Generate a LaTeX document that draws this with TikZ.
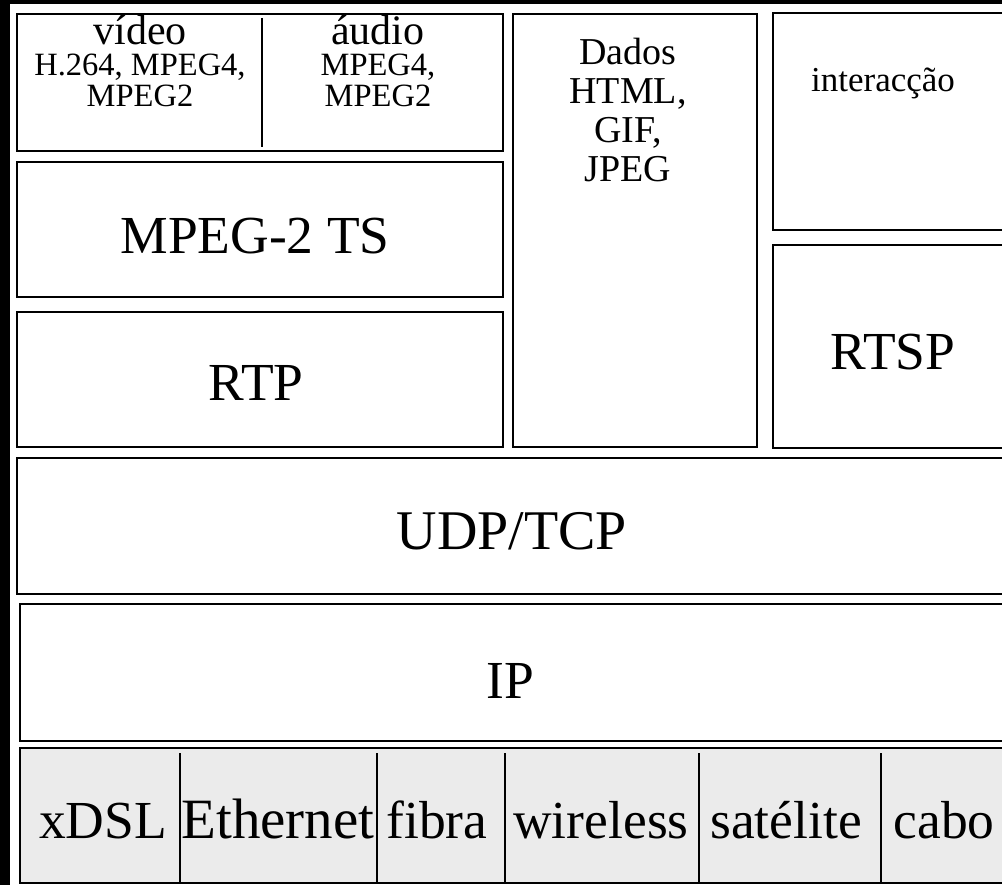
\documentclass[tikz,border=0pt]{standalone}
\usepackage{fontspec}
\setmainfont{Liberation Serif}
\definecolor{physgray}{RGB}{235,235,235}
\begin{document}
\begin{tikzpicture}[x=1pt,y=-1pt,
  box/.style={draw=black, line width=2pt, fill=white, rectangle, inner sep=0pt, outer sep=0pt},
  physbox/.style={box, fill=physgray},
  divline/.style={draw=black, line width=2pt},
  lbl/.style={anchor=base, inner sep=0pt, outer sep=0pt, text=black},
  bigtxt/.style={lbl, font=\fontsize{53.5}{53.5}\selectfont},
  titletxt/.style={lbl, font=\fontsize{42}{42}\selectfont},
  smalltxt/.style={lbl, font=\fontsize{32.5}{32.5}\selectfont},
  datatxt/.style={lbl, font=\fontsize{38}{38}\selectfont},
  intertxt/.style={lbl, font=\fontsize{35}{35}\selectfont}]
\useasboundingbox (0,0) rectangle (1002,885);
\fill[white] (0,0) rectangle (1002,885);
\fill[black] (0,0) rectangle (10,885);
\fill[black] (0,0) rectangle (1002,4);
\clip (0,0) rectangle (1002,885);

% boxes
\node[box, minimum width=486pt, minimum height=137pt] (vidaud) at (260,82.5) {};
\node[box, minimum width=486pt, minimum height=135pt] (mpegts) at (260,229.5) {};
\node[box, minimum width=486pt, minimum height=135pt] (rtp) at (260,379.5) {};
\node[box, minimum width=244pt, minimum height=433pt] (dados) at (635,230.5) {};
\node[box, minimum width=239pt, minimum height=217pt] (inter) at (892.5,121.5) {};
\node[box, minimum width=239pt, minimum height=203pt] (rtsp) at (892.5,346.5) {};
\node[box, minimum width=995pt, minimum height=136pt] (udp) at (514.5,526) {};
\node[box, minimum width=992pt, minimum height=137pt] (ip) at (516,672.5) {};
\node[physbox, minimum width=992pt, minimum height=135pt] (phys) at (516,815.5) {};

% divider in video/audio box
\coordinate (vdtop) at (262,18);
\coordinate (vdbot) at (262,147);
\draw[divline] (vdtop) -- (vdbot);

% dividers in physical row
\foreach \xx/\nm in {180/a,377/b,505/c,699/d,881/e}{
  \coordinate (pt\nm) at (\xx,753);
  \coordinate (pb\nm) at (\xx,883);
  \draw[divline] (pt\nm) -- (pb\nm);
}

% video / audio texts
\node[titletxt] (vt1) at (140,45) {vídeo};
\node[smalltxt] (vt2) at (140,76) {H.264, MPEG4,};
\node[smalltxt] (vt3) at (140,107) {MPEG2};
\node[titletxt] (at1) at (378,45) {áudio};
\node[smalltxt] (at2) at (378,76) {MPEG4,};
\node[smalltxt] (at3) at (378,107) {MPEG2};

% dados texts
\node[datatxt] (dt1) at (628,65) {Dados};
\node[datatxt] (dt2) at (628,104) {HTML,};
\node[datatxt] (dt3) at (628,143) {GIF,};
\node[datatxt] (dt4) at (628,182) {JPEG};

\node[intertxt] (it) at (883,92) {interacção};

% big labels
\node[bigtxt] (tmpeg) at (255,254) {MPEG-2 TS};
\node[bigtxt] (trtp) at (256,400) {RTP};
\node[bigtxt] (trtsp) at (893,370) {RTSP};
\node[bigtxt, font=\fontsize{56}{56}\selectfont] (tudp) at (512,549) {UDP/TCP};
\node[bigtxt] (tip) at (510,698) {IP};

% physical layer labels
\node[bigtxt] (p1) at (103,838) {xDSL};
\node[bigtxt, font=\fontsize{57}{57}\selectfont] (p2) at (278,838) {Ethernet};
\node[bigtxt] (p3) at (437,838) {fibra};
\node[bigtxt] (p4) at (601,838) {wireless};
\node[bigtxt] (p5) at (786,838) {satélite};
\node[bigtxt] (p6) at (944,838) {cabo};
\end{tikzpicture}
\end{document}
